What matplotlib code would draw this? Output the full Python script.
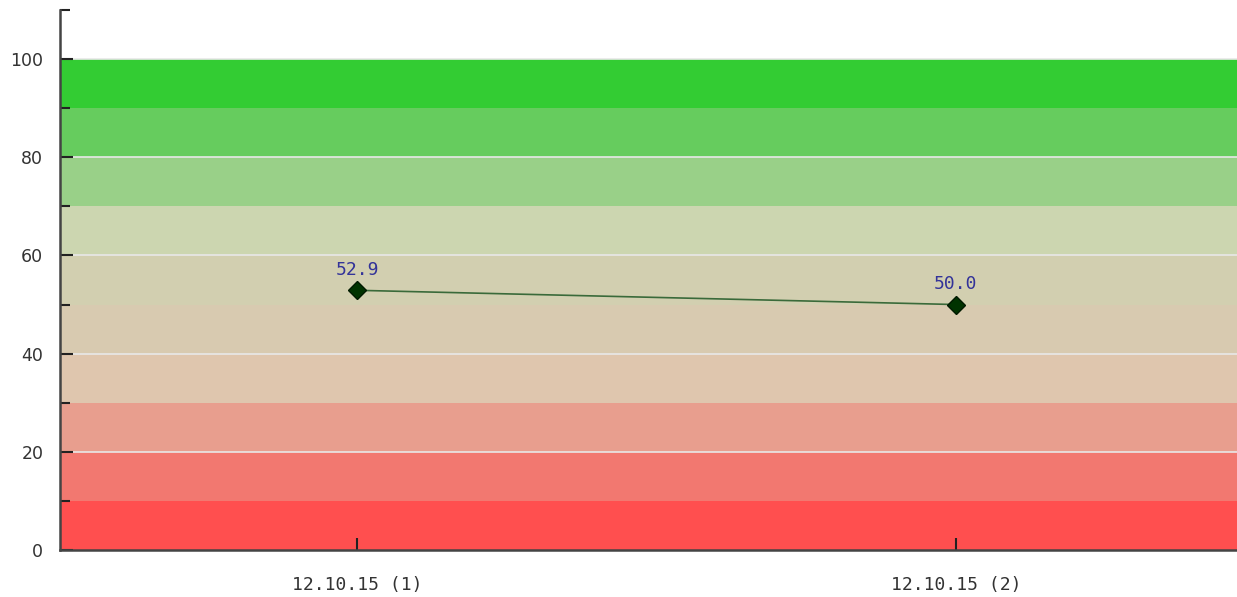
import matplotlib
matplotlib.use("Agg")
import matplotlib.pyplot as plt
from matplotlib.ticker import MultipleLocator

labels = ["12.10.15 (1)", "12.10.15 (2)"]
values = [52.9, 50.0]

band_edges = [0, 10, 20, 30, 40, 50, 60, 70, 80, 90, 100]
band_colors = ["#ff4f4f", "#f27870", "#e89e8e", "#dfc6ae", "#d8cab0",
               "#d2cfb0", "#ccd6b0", "#99d088", "#66cc5e", "#33cc33"]

fig = plt.figure(figsize=(12.37, 5.97), dpi=100)
ax = fig.add_axes([60 / 1237, 47 / 597, 1 - 60 / 1237, 540 / 597])

for lo, hi, c in zip(band_edges[:-1], band_edges[1:], band_colors):
    ax.axhspan(lo, hi, color=c, lw=0, zorder=0)
for yv in [20, 40, 60, 80, 100]:
    ax.axhline(yv, color="#e8e8e8", lw=1.2, zorder=1)

x = list(range(len(values)))
ax.plot(x, values, color="#3a6a3a", lw=1.2, zorder=2)
ax.plot(x, values, ls="none", marker="D", ms=9, mfc="#003300", mec="#001a00", zorder=3)
for xi, v in zip(x, values):
    ax.annotate(f"{v:.1f}", (xi, v), xytext=(0, 8), textcoords="offset points",
                ha="center", va="bottom", color="#333399",
                family="DejaVu Sans Mono", fontsize=13)

ax.set_xlim(-0.497, 1.47)
ax.set_ylim(0, 110)
ax.set_xticks(x)
ax.set_xticklabels(labels, family="DejaVu Sans Mono", fontsize=13, color="#333333")
ax.yaxis.set_minor_locator(MultipleLocator(10))
ax.set_yticks([0, 20, 40, 60, 80, 100])
ax.set_yticklabels(["0", "20", "40", "60", "80", "100"], fontsize=12.5, color="#333333")
ax.tick_params(axis="y", which="major", direction="in", length=9, width=1.5, color="#222222", pad=12)
ax.tick_params(axis="y", which="minor", direction="in", length=7, width=1.5, color="#222222")
ax.tick_params(axis="x", direction="in", length=9, width=1.5, color="#222222", pad=19)

for s in ["top", "right"]:
    ax.spines[s].set_visible(False)
for s in ["left", "bottom"]:
    ax.spines[s].set_color("#444444")
    ax.spines[s].set_linewidth(1.8)

fig.savefig("out.png", dpi=100)
